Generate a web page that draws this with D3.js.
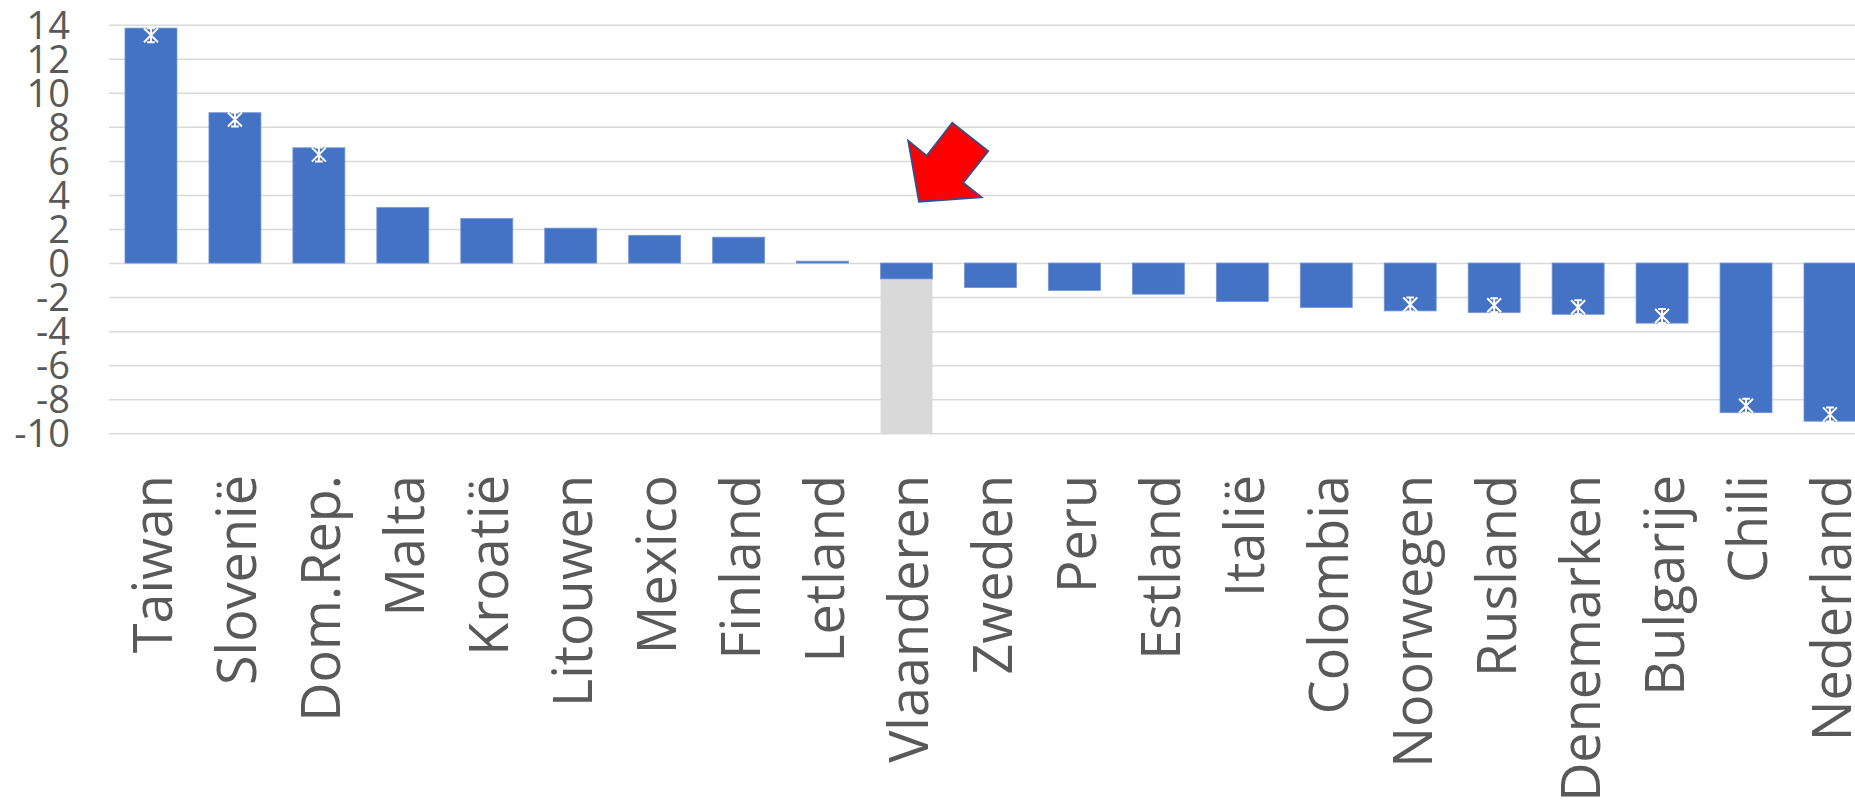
<!DOCTYPE html>
<html>
<head>
<meta charset="utf-8">
<script src="https://cdn.jsdelivr.net/npm/d3@7"></script>
<style>
  html, body { margin: 0; padding: 0; background: #ffffff; overflow: hidden; }
  svg { display: block; font-family: "Open Sans", "Noto Sans", sans-serif; }
</style>
</head>
<body>
<svg id="chart" width="1855" height="805"></svg>
<script>
// ---- data ----
const categories = ["Taiwan","Slovenië","Dom.Rep.","Malta","Kroatië","Litouwen","Mexico","Finland","Letland","Vlaanderen","Zweden","Peru","Estland","Italië","Colombia","Noorwegen","Rusland","Denemarken","Bulgarije","Chili","Nederland"];
const values = [13.8, 8.83, 6.77, 3.26, 2.62, 2.05, 1.63, 1.52, 0.11, -0.93, -1.44, -1.61, -1.83, -2.26, -2.61, -2.81, -2.91, -3.01, -3.53, -8.79, -9.29];
const starValues = [13.38, 8.43, 6.37, null, null, null, null, null, null, null, null, null, null, null, null, -2.43, -2.48, -2.6, -3.11, -8.38, -8.89];
const highlightCategory = "Vlaanderen";
const highlightBottom = -10;
const yTicks = [-10, -8, -6, -4, -2, 0, 2, 4, 6, 8, 10, 12, 14];
const arrowTipValue = 3.6;

// ---- layout ----
const W = 1855, H = 805;
const plotLeft = 109, step = 83.95;
const svg = d3.select("#chart");

const x = d3.scaleBand()
  .domain(categories)
  .range([plotLeft, plotLeft + categories.length * step])
  .paddingInner(0.381)
  .paddingOuter(0.1905);

const y = d3.scaleLinear().domain([-10, 14]).range([433.3, 24.7]);

// gridlines + y labels
const yAxis = d3.axisLeft(y)
  .tickValues(yTicks)
  .tickSize(-(W + 40 - plotLeft))
  .tickPadding(39)
  .tickFormat(d => String(d));

const gy = svg.append("g")
  .attr("transform", `translate(${plotLeft},0)`)
  .call(yAxis);
gy.select(".domain").remove();
gy.selectAll(".tick line").attr("stroke", "#d9d9d9").attr("stroke-width", 1.5);
gy.selectAll(".tick text")
  .attr("fill", "#595959")
  .attr("font-size", 38)
  .attr("font-family", '"Open Sans", sans-serif')
  .attr("dy", "0.36em");

// highlight (grey) bar
const hv = values[categories.indexOf(highlightCategory)];
svg.append("rect")
  .attr("x", x(highlightCategory))
  .attr("width", x.bandwidth())
  .attr("y", y(hv))
  .attr("height", y(highlightBottom) - y(hv))
  .attr("fill", "#d9d9d9");

// bars
svg.append("g").selectAll("rect")
  .data(categories.map((c, i) => ({c, v: values[i]})))
  .join("rect")
  .attr("x", d => x(d.c))
  .attr("width", x.bandwidth())
  .attr("y", d => y(Math.max(0, d.v)))
  .attr("height", d => Math.abs(y(d.v) - y(0)))
  .attr("fill", "#4472c4")
  .attr("stroke", "#7495d3")
  .attr("stroke-width", 0.8);

// star markers
const s = 7;
const starPath = `M${-s},${-s}L${s},${s}M${s},${-s}L${-s},${s}M0,${-s}L0,${s}M${-s*0.55},${-s}L${s*0.55},${-s}M${-s*0.55},${s}L${s*0.55},${s}`;
svg.append("g").selectAll("path")
  .data(categories.map((c, i) => ({c, v: starValues[i]})).filter(d => d.v !== null))
  .join("path")
  .attr("transform", d => `translate(${x(d.c) + x.bandwidth() / 2},${y(d.v)})`)
  .attr("d", starPath)
  .attr("stroke", "#ffffff")
  .attr("stroke-width", 2)
  .attr("fill", "none");

// arrow annotation (tip positioned relative to the highlighted bar)
const arrowShape = [[33.3,-79],[69.3,-50.7],[44.3,-19],[62.7,-4.4],[0,0],[-10.7,-61],[7.7,-46]];
const tipX = x(highlightCategory) + x.bandwidth() / 2 + 12.4;
const tipY = y(arrowTipValue);
svg.append("path")
  .attr("d", "M" + arrowShape.map(p => [tipX + p[0], tipY + p[1]].join(",")).join("L") + "Z")
  .attr("fill", "#ff0000")
  .attr("stroke", "#2f528f")
  .attr("stroke-width", 1.8)
  .attr("stroke-linejoin", "miter");

// x labels (rotated)
svg.append("g").selectAll("text")
  .data(categories)
  .join("text")
  .attr("transform", d => `translate(${x(d) + x.bandwidth() / 2 + 2},475) rotate(-90)`)
  .attr("text-anchor", "end")
  .attr("dy", "0.36em")
  .attr("font-size", 54)
  .attr("fill", "#595959")
  .text(d => d);
</script>
</body>
</html>
